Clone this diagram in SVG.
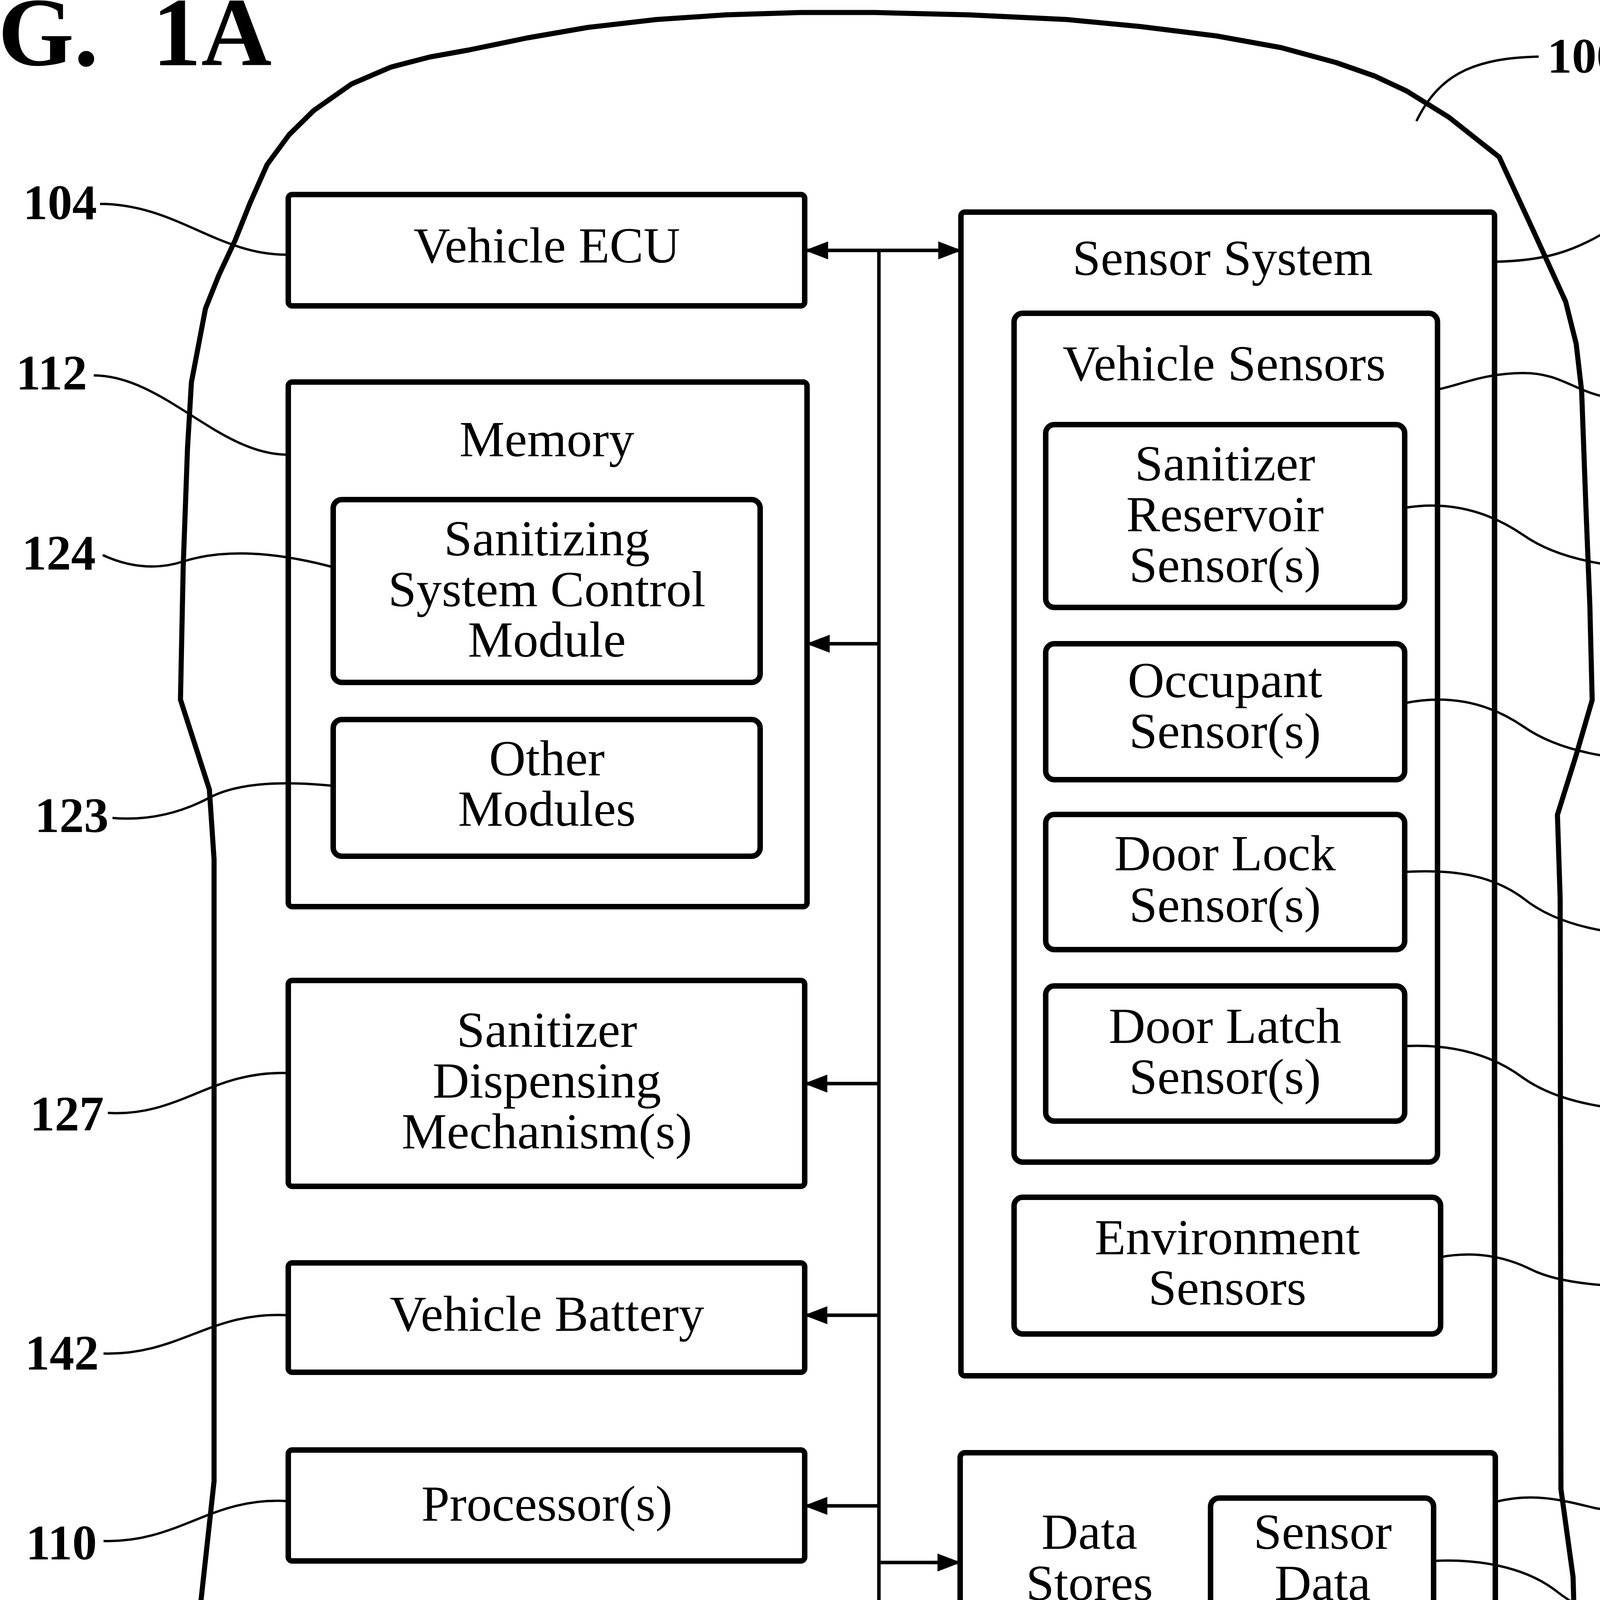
<svg xmlns="http://www.w3.org/2000/svg" width="4666" height="5777" viewBox="0 0 4666 5777">
<style>
.box{fill:none;stroke:#000;stroke-width:14}
.t{font-family:"Liberation Serif","Times New Roman",serif;font-size:130px;text-anchor:middle;fill:#000}
.lbl{font-family:"Liberation Serif","Times New Roman",serif;font-weight:bold;font-size:126px;fill:#000}
.title{font-family:"Liberation Serif","Times New Roman",serif;font-weight:bold;font-size:250px;fill:#000}
.lead{fill:none;stroke:#000;stroke-width:6}
.bus{fill:none;stroke:#000;stroke-width:9}
.outline{fill:none;stroke:#000;stroke-width:13;stroke-linejoin:round}
</style>
<defs>
<marker id="ah" viewBox="0 0 60 50" refX="58" refY="25" markerWidth="60" markerHeight="50" markerUnits="userSpaceOnUse" orient="auto-start-reverse">
<path d="M0,2 L60,25 L0,48 Z" fill="#000"/>
</marker>
</defs>
<rect width="4666" height="5777" fill="#fff"/>

<text class="title" y="167"><tspan x="-255">FIG.</tspan><tspan x="390">1A</tspan></text>

<g id="vehicle-100">
<path class="outline" d="M526,790 L560,705 L602,615 L640,520 L684,421 L740,345 L803,283 L900,215 L1000,172 L1100,146 L1200,128 L1350,97 L1506,70 L1680,50 L1858,38 L2050,32 L2241,32 L2480,38 L2731,50 L2920,68 L3114,92 L3280,122 L3420,160 L3520,195 L3601,233 L3709,300 L3838,402 L3925,590 L4008,772 L4035,880 L4049,1001 L4060,1300 L4070,1550 L4076,1792 L4035,1933 L3987,2086 L3994,2300 L3996,3812 L4027,4037 L4039,4445 L4033,4853 L3975,5057 L3906,5298 L3850,5400 L3780,5485 L3690,5560 L3584,5601 L2896,5703 L2391,5763 L2207,5768 L1977,5753 L921,5591 L761,5485 L669,5361 L612,5200 L561,5016 L510,4833 L500,4445 L510,4139 L548,3792 L548,2200 L536,2021 L462,1791 L469,1451 L480,1148 L490,979 Z"/>
<text class="lbl" x="3961" y="186">100</text>
</g>

<g id="connectors">
<line class="bus" x1="2250" y1="641" x2="2250" y2="5184"/>
<line class="bus" x1="2062" y1="641" x2="2460" y2="641" marker-start="url(#ah)" marker-end="url(#ah)"/>
<line class="bus" x1="2250" y1="1648" x2="2066" y2="1648" marker-end="url(#ah)"/>
<line class="bus" x1="2250" y1="2774" x2="2060" y2="2774" marker-end="url(#ah)"/>
<line class="bus" x1="2250" y1="3367" x2="2060" y2="3367" marker-end="url(#ah)"/>
<line class="bus" x1="2250" y1="3855" x2="2060" y2="3855" marker-end="url(#ah)"/>
<line class="bus" x1="2250" y1="4326" x2="2060" y2="4326" marker-end="url(#ah)"/>
<line class="bus" x1="2250" y1="4800" x2="2060" y2="4800" marker-end="url(#ah)"/>
<line class="bus" x1="2250" y1="5184" x2="2060" y2="5184" marker-end="url(#ah)"/>
<line class="bus" x1="2250" y1="4000" x2="2458" y2="4000" marker-end="url(#ah)"/>
<line class="bus" x1="2250" y1="4587" x2="2444" y2="4587" marker-end="url(#ah)"/>
<line class="bus" x1="2250" y1="5056" x2="2456" y2="5056" marker-end="url(#ah)"/>
</g>

<g id="leaders">
<path class="lead" d="M3626,310 C3680,200 3760,148 3939,145"/>
<path class="lead" d="M256,522 C450,522 560,655 738,652"/>
<path class="lead" d="M240,961 C420,962 560,1165 738,1164"/>
<path class="lead" d="M263,1421 Q370,1470 470,1437 Q620,1390 853,1452"/>
<path class="lead" d="M288,2094 Q420,2105 540,2040 Q640,1990 856,2012"/>
<path class="lead" d="M276,2849 C460,2860 540,2740 738,2747"/>
<path class="lead" d="M265,3465 C460,3470 540,3355 738,3367"/>
<path class="lead" d="M265,3945 C460,3950 540,3830 738,3843"/>
<path class="lead" d="M268,4431 C460,4435 540,4320 738,4329"/>
<path class="lead" d="M250,4849 C440,4870 530,4770 738,4788"/>
<path class="lead" d="M250,5267 C440,5262 530,5145 738,5153"/>
<path class="lead" d="M4433,446 C4260,452 4200,540 4100,600 C4030,640 3960,668 3826,670"/>
<path class="lead" d="M4426,938 C4300,975 4230,1030 4130,1020 C4030,1005 4000,955 3900,955 C3800,955 3740,985 3680,997"/>
<path class="lead" d="M4372,1461 C4150,1460 4000,1440 3900,1370 C3820,1315 3720,1280 3596,1300"/>
<path class="lead" d="M4372,1952 C4150,1952 4000,1930 3900,1860 C3820,1805 3720,1775 3596,1800"/>
<path class="lead" d="M4372,2400 C4150,2400 4000,2380 3900,2300 C3820,2240 3720,2225 3596,2232"/>
<path class="lead" d="M4369,2849 C4150,2849 4000,2830 3900,2760 C3820,2700 3720,2672 3596,2678"/>
<path class="lead" d="M4341,3292 C4150,3300 4000,3290 3920,3250 C3840,3210 3760,3205 3688,3218"/>
<path class="lead" d="M4393,3812 C4280,3830 4170,3880 4080,3860 C4000,3840 3920,3820 3828,3845"/>
<path class="lead" d="M4402,4180 C4200,4180 4080,4150 3980,4070 C3900,4010 3780,3990 3670,3996"/>
<path class="lead" d="M4350,4659 C4150,4665 4050,4660 3980,4610 C3920,4570 3830,4580 3761,4605"/>
<path class="lead" d="M4362,5149 C4160,5150 4060,5120 3980,5060 C3920,5020 3840,5020 3770,5040"/>
</g>

<g id="vehicle-ecu-104">
<rect class="box" x="738" y="498" width="1322" height="285" rx="10"/>
<text class="t" x="1400" y="672">Vehicle ECU</text>
<text class="lbl" x="59" y="561">104</text>
</g>

<g id="memory-112">
<rect class="box" x="738" y="978" width="1328" height="1343" rx="10"/>
<text class="t" x="1400" y="1168">Memory</text>
<text class="lbl" x="41" y="997">112</text>
</g>

<g id="sanitizing-module-124">
<rect class="box" x="853" y="1279" width="1093" height="468" rx="22"/>
<text class="t" x="1400" y="1422">Sanitizing</text>
<text class="t" x="1400" y="1552">System Control</text>
<text class="t" x="1400" y="1681">Module</text>
<text class="lbl" x="56" y="1458">124</text>
</g>

<g id="other-modules-123">
<rect class="box" x="853" y="1842" width="1093" height="350" rx="22"/>
<text class="t" x="1400" y="1985">Other</text>
<text class="t" x="1400" y="2114">Modules</text>
<text class="lbl" x="89" y="2130">123</text>
</g>

<g id="dispensing-127">
<rect class="box" x="738" y="2510" width="1322" height="527" rx="10"/>
<text class="t" x="1400" y="2680">Sanitizer</text>
<text class="t" x="1400" y="2810">Dispensing</text>
<text class="t" x="1400" y="2940">Mechanism(s)</text>
<text class="lbl" x="77" y="2894">127</text>
</g>

<g id="battery-142">
<rect class="box" x="738" y="3233" width="1322" height="280" rx="10"/>
<text class="t" x="1400" y="3407">Vehicle Battery</text>
<text class="lbl" x="64" y="3506">142</text>
</g>

<g id="processor-110">
<rect class="box" x="738" y="3712" width="1322" height="284" rx="10"/>
<text class="t" x="1400" y="3893">Processor(s)</text>
<text class="lbl" x="66" y="3992">110</text>
</g>

<g id="output-135">
<rect class="box" x="738" y="4189" width="1322" height="276" rx="10"/>
<text class="t" x="1400" y="4365">Output System</text>
<text class="lbl" x="64" y="4476">135</text>
</g>

<g id="input-130">
<rect class="box" x="738" y="4660" width="1322" height="284" rx="10"/>
<text class="t" x="1400" y="4840">Input System</text>
<text class="lbl" x="46" y="4904">130</text>
</g>

<g id="actuators-150">
<rect class="box" x="738" y="5028" width="1322" height="282" rx="10"/>
<text class="t" x="1400" y="5208">Actuators</text>
<text class="lbl" x="46" y="5312">150</text>
</g>

<g id="sensor-system-120">
<rect class="box" x="2460" y="543" width="1366" height="2979" rx="10"/>
<text class="t" x="3130" y="704">Sensor System</text>
<text class="lbl" x="4455" y="494">120</text>
</g>

<g id="vehicle-sensors-121">
<rect class="box" x="2596" y="802" width="1084" height="2173" rx="22"/>
<text class="t" x="3134" y="974">Vehicle Sensors</text>
<text class="lbl" x="4453" y="976">121</text>
</g>

<g id="reservoir-sensor-109">
<rect class="box" x="2677" y="1087" width="919" height="468" rx="22"/>
<text class="t" x="3136" y="1230">Sanitizer</text>
<text class="t" x="3136" y="1360">Reservoir</text>
<text class="t" x="3136" y="1490">Sensor(s)</text>
<text class="lbl" x="4399" y="1505">109</text>
</g>

<g id="occupant-sensor-125">
<rect class="box" x="2677" y="1648" width="919" height="348" rx="22"/>
<text class="t" x="3136" y="1785">Occupant</text>
<text class="t" x="3136" y="1915">Sensor(s)</text>
<text class="lbl" x="4395" y="1990">125</text>
</g>

<g id="door-lock-sensor-126">
<rect class="box" x="2677" y="2085" width="919" height="346" rx="22"/>
<text class="t" x="3136" y="2228">Door Lock</text>
<text class="t" x="3136" y="2360">Sensor(s)</text>
<text class="lbl" x="4399" y="2445">126</text>
</g>

<g id="door-latch-sensor-152">
<rect class="box" x="2677" y="2524" width="919" height="346" rx="22"/>
<text class="t" x="3136" y="2670">Door Latch</text>
<text class="t" x="3136" y="2800">Sensor(s)</text>
<text class="lbl" x="4399" y="2894">152</text>
</g>

<g id="environment-sensors-122">
<rect class="box" x="2596" y="3065" width="1092" height="350" rx="22"/>
<text class="t" x="3142" y="3211">Environment</text>
<text class="t" x="3142" y="3340">Sensors</text>
<text class="lbl" x="4359" y="3327">122</text>
</g>

<g id="data-stores-115">
<rect class="box" x="2458" y="3719" width="1370" height="563" rx="12"/>
<text class="t" x="2789" y="3965">Data</text>
<text class="t" x="2789" y="4096">Stores</text>
<text class="lbl" x="4421" y="3857">115</text>
</g>

<g id="sensor-data-119">
<rect class="box" x="3099" y="3835" width="571" height="333" rx="22"/>
<text class="t" x="3386" y="3965">Sensor</text>
<text class="t" x="3386" y="4096">Data</text>
<text class="lbl" x="4421" y="4220">119</text>
</g>

<g id="vehicle-systems-140">
<rect class="box" x="2444" y="4471" width="1317" height="244" rx="10"/>
<text class="t" x="3096" y="4622">Vehicle Systems</text>
<text class="lbl" x="4375" y="4700">140</text>
</g>

<g id="comms-interface-169">
<rect class="box" x="2456" y="4868" width="1314" height="362" rx="10"/>
<text class="t" x="3116" y="5018">Communications</text>
<text class="t" x="3116" y="5150">Interface</text>
<text class="lbl" x="4381" y="5190">169</text>
</g>
</svg>
